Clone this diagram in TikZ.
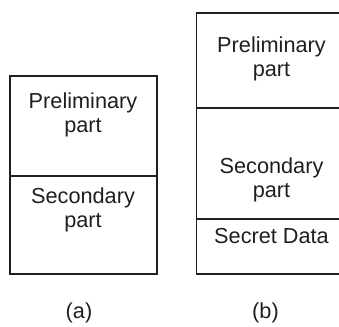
\documentclass[tikz,border=0pt]{standalone}
\usepackage{fontspec}
\setmainfont{Liberation Sans}
\begin{document}
\begin{tikzpicture}[x=1pt,y=-1pt,
  cell/.style={draw=black!88, line width=1.7pt, rectangle, inner sep=0pt,
               anchor=north west},
  txt/.style={text=black!88, inner sep=0pt, anchor=north, align=center,
              font=\fontsize{21.7}{24}\selectfont},
  caption/.style={text=black!88, inner sep=0pt, anchor=base,
              font=\fontsize{21.7}{24}\selectfont}]
  \clip (0,0) rectangle (339,326);
  % layout (a): two stacked cells
  \node[cell, minimum width=147pt, minimum height=100pt] (a1) at (9,75) {};
  \node[cell, minimum width=147pt, minimum height=98pt] (a2) at (9,175) {};
  \node[txt] (a1t) at (83,93) {Preliminary\\part};
  \node[txt] (a2t) at (83,188) {Secondary\\part};
  % layout (b): three stacked cells
  \node[cell, minimum width=152pt, minimum height=95pt] (b1) at (195.5,12) {};
  \node[cell, minimum width=152pt, minimum height=111pt] (b2) at (195.5,107) {};
  \node[cell, minimum width=152pt, minimum height=55pt] (b3) at (195.5,218) {};
  \node[txt] (b1t) at (271.5,37) {Preliminary\\part};
  \node[txt] (b2t) at (271.5,158) {Secondary\\part};
  \node[txt] (b3t) at (271.5,228) {Secret Data};
  % captions
  \node[caption] (capa) at (79,318) {(a)};
  \node[caption] (capb) at (265.5,318) {(b)};
\end{tikzpicture}
\end{document}
